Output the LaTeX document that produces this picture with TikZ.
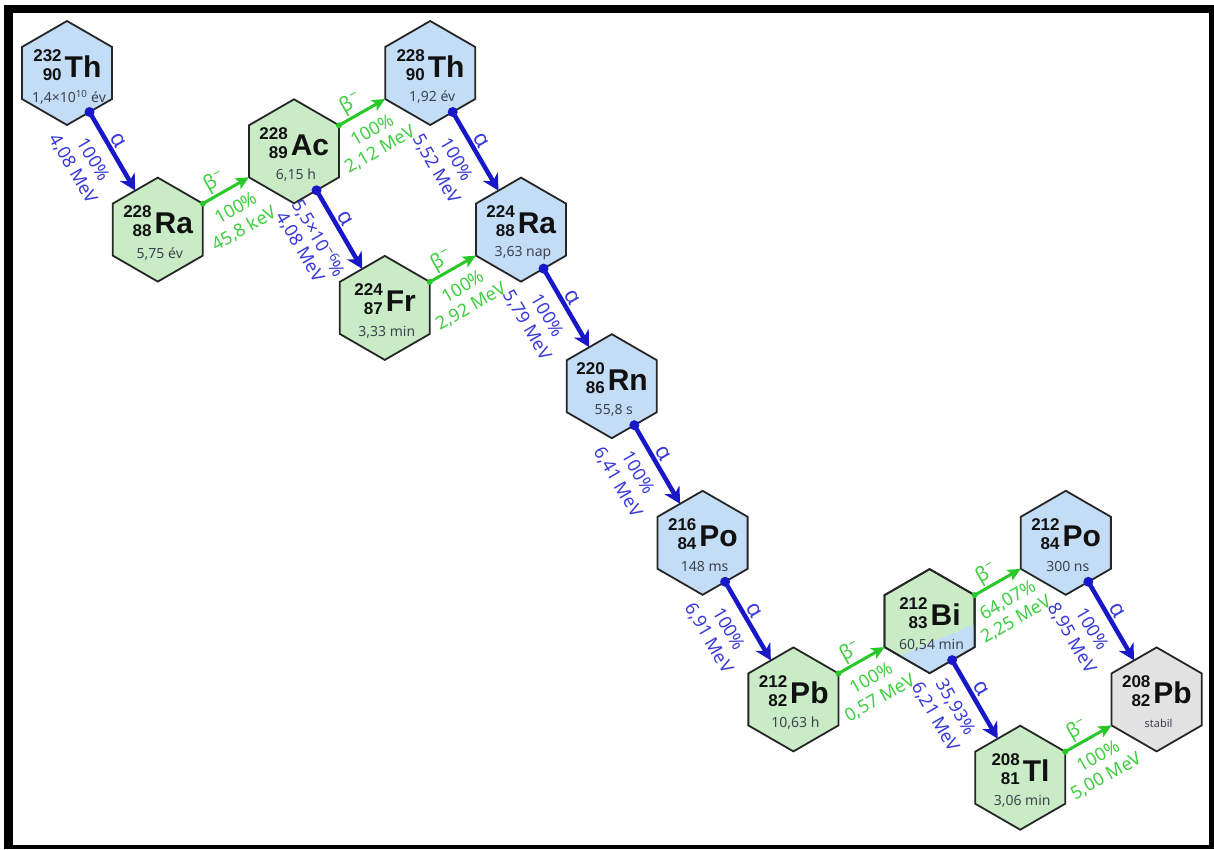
\documentclass[tikz,border=0pt]{standalone}
\usepackage{fontspec}
\setmainfont{Noto Sans}
\newfontfamily\heavysans{Liberation Sans}
\usetikzlibrary{shapes.geometric,arrows.meta,calc}

\definecolor{hexblue}{RGB}{196,221,247}
\definecolor{hexgreen}{RGB}{201,236,199}
\definecolor{hexgrey}{RGB}{226,226,226}
\definecolor{hexline}{RGB}{38,38,38}
\definecolor{symtext}{RGB}{17,17,17}
\definecolor{alphacol}{RGB}{24,24,200}
\definecolor{alphatext}{RGB}{58,58,218}
\definecolor{betacol}{RGB}{40,200,40}
\definecolor{betatext}{RGB}{64,206,64}
\definecolor{halfgray}{RGB}{62,66,78}

% mass number over atomic number, right aligned
\newcommand\numstack[2]{{\heavysans\bfseries\fontsize{17}{19}\selectfont\begin{tabular}[b]{@{}r@{}}#1\\#2\end{tabular}}}

% hexagonal cell
\newcommand\hexnode[4]{\node[#4] (#1) at (#2,#3) {};}
% nuclide text inside a cell: name, A, Z, symbol, half-life
\newcommand\hexlabel[5]{%
  \node[anchor=base, inner sep=0pt, text=symtext] at ($(#1.center)+(16,4)$)
    {\llap{\raisebox{-3pt}{\numstack{#2}{#3}}\hspace{3pt}}{\heavysans\bfseries\fontsize{30}{30}\selectfont #4}};
  \node[halflife] at ($(#1.center)+(2,24)$) {#5};
}
\newcommand\isotope[8]{\hexnode{#1}{#2}{#3}{#4}\hexlabel{#1}{#5}{#6}{#7}{#8}}
% outline of a cell through its six corners
\newcommand\hexpath[1]{($(#1.center)+(0,-52)$) -- ($(#1.center)+(45.03,-26)$)
  -- ($(#1.center)+(45.03,26)$) -- ($(#1.center)+(0,52)$)
  -- ($(#1.center)+(-45.03,26)$) -- ($(#1.center)+(-45.03,-26)$) -- cycle}

\tikzset{
  hex/.style={regular polygon, regular polygon sides=6, shape border rotate=30,
    minimum size=104pt, inner sep=0pt, outer sep=0pt, draw=hexline, line width=1.8pt},
  hexb/.style={hex, fill=hexblue},
  hexg/.style={hex, fill=hexgreen},
  hexs/.style={hex, fill=hexgrey},
  halflife/.style={inner sep=0pt, text=halfgray, font=\fontsize{14}{14}\selectfont},
  alphaarr/.style={draw=alphacol, line width=4.5pt,
    -{Stealth[length=16pt,width=17pt,inset=5pt]}},
  betaarr/.style={draw=betacol, line width=3pt,
    -{Stealth[length=13pt,width=12pt,inset=3pt]}},
  alab/.style={sloped, inner xsep=0pt, text=alphatext, font=\fontsize{18}{18}\selectfont},
  blab/.style={sloped, inner xsep=0pt, text=betatext, font=\fontsize{18}{18}\selectfont},
  abv/.style={anchor=south, inner ysep=#1},
  blw/.style={anchor=north, inner ysep=#1},
}

\newcommand\alphadecay[4]{%
  \draw[alphaarr] (#1.-60) -- (#2.120)
    node[alab, pos=.43, abv=2pt, font=\fontsize{22}{22}\selectfont] {α}
    node[alab, pos=.47, blw=11pt] {#3}
    node[alab, pos=.45, blw=33pt] {#4};
  \fill[alphacol] (#1.-60) circle (5pt);
}
\newcommand\betadecay[4]{%
  \draw[betaarr] (#1.30) -- (#2.210)
    node[blab, pos=.40, abv=1pt, font=\fontsize{20}{20}\selectfont] {β\textsuperscript{−}}
    node[blab, pos=.5, blw=12pt] {#3}
    node[blab, pos=.45, blw=33pt] {#4};
  \fill[betacol] (#1.30) circle (3pt);
}

\begin{document}
\begin{tikzpicture}[x=1pt, y=-1pt]
\useasboundingbox (0,0) rectangle (1214,849);
% frame
\fill[black] (4,5) rectangle (1214,849);
\fill[white] (12.5,13) rectangle (1209,845);

% nuclides
\isotope{th232}{67}{73}{hexb}{232}{90}{Th}{1,4×10\textsuperscript{10} év}
\isotope{ra228}{157.8}{229.6}{hexg}{228}{88}{Ra}{5,75 év}
\isotope{ac228}{294}{151.3}{hexg}{228}{89}{Ac}{6,15 h}
\isotope{th228}{430.2}{73}{hexb}{228}{90}{Th}{1,92 év}
\isotope{fr224}{384.8}{307.9}{hexg}{224}{87}{Fr}{3,33 min}
\isotope{ra224}{521}{229.6}{hexb}{224}{88}{Ra}{3,63 nap}
\isotope{rn220}{611.8}{386.2}{hexb}{220}{86}{Rn}{55,8 s}
\isotope{po216}{702.6}{542.8}{hexb}{216}{84}{Po}{148 ms}
\isotope{pb212}{793.4}{699.4}{hexg}{212}{82}{Pb}{10,63 h}
% Bi-212 branches both ways: green above, blue in the lower right
\hexnode{bi212}{929.6}{621.1}{hexg}
\begin{scope}
  \clip \hexpath{bi212};
  \fill[hexblue] ($(bi212.center)+(60,-3)$) -- ($(bi212.center)+(-60,47)$)
    -- ($(bi212.center)+(-60,70)$) -- ($(bi212.center)+(60,70)$) -- cycle;
\end{scope}
\draw[hexline, line width=1.8pt] \hexpath{bi212};
\hexlabel{bi212}{212}{83}{Bi}{60,54 min}
\isotope{po212}{1065.8}{542.8}{hexb}{212}{84}{Po}{300 ns}
\isotope{pb208}{1156.6}{699.4}{hexs}{208}{82}{Pb}{{\fontsize{11}{11}\selectfont stabil}}
\isotope{tl208}{1020.2}{777.7}{hexg}{208}{81}{Tl}{3,06 min}

% alpha decays
\alphadecay{th232}{ra228}{100\%}{4,08 MeV}
\alphadecay{ac228}{fr224}{5,5×10\textsuperscript{−6}\%}{4,08 MeV}
\alphadecay{th228}{ra224}{100\%}{5,52 MeV}
\alphadecay{ra224}{rn220}{100\%}{5,79 MeV}
\alphadecay{rn220}{po216}{100\%}{6,41 MeV}
\alphadecay{po216}{pb212}{100\%}{6,91 MeV}
\alphadecay{bi212}{tl208}{35,93\%}{6,21 MeV}
\alphadecay{po212}{pb208}{100\%}{8,95 MeV}

% beta-minus decays
\betadecay{ra228}{ac228}{100\%}{45,8 keV}
\betadecay{ac228}{th228}{100\%}{2,12 MeV}
\betadecay{fr224}{ra224}{100\%}{2,92 MeV}
\betadecay{pb212}{bi212}{100\%}{0,57 MeV}
\betadecay{bi212}{po212}{64,07\%}{2,25 MeV}
\betadecay{tl208}{pb208}{100\%}{5,00 MeV}
\end{tikzpicture}
\end{document}
